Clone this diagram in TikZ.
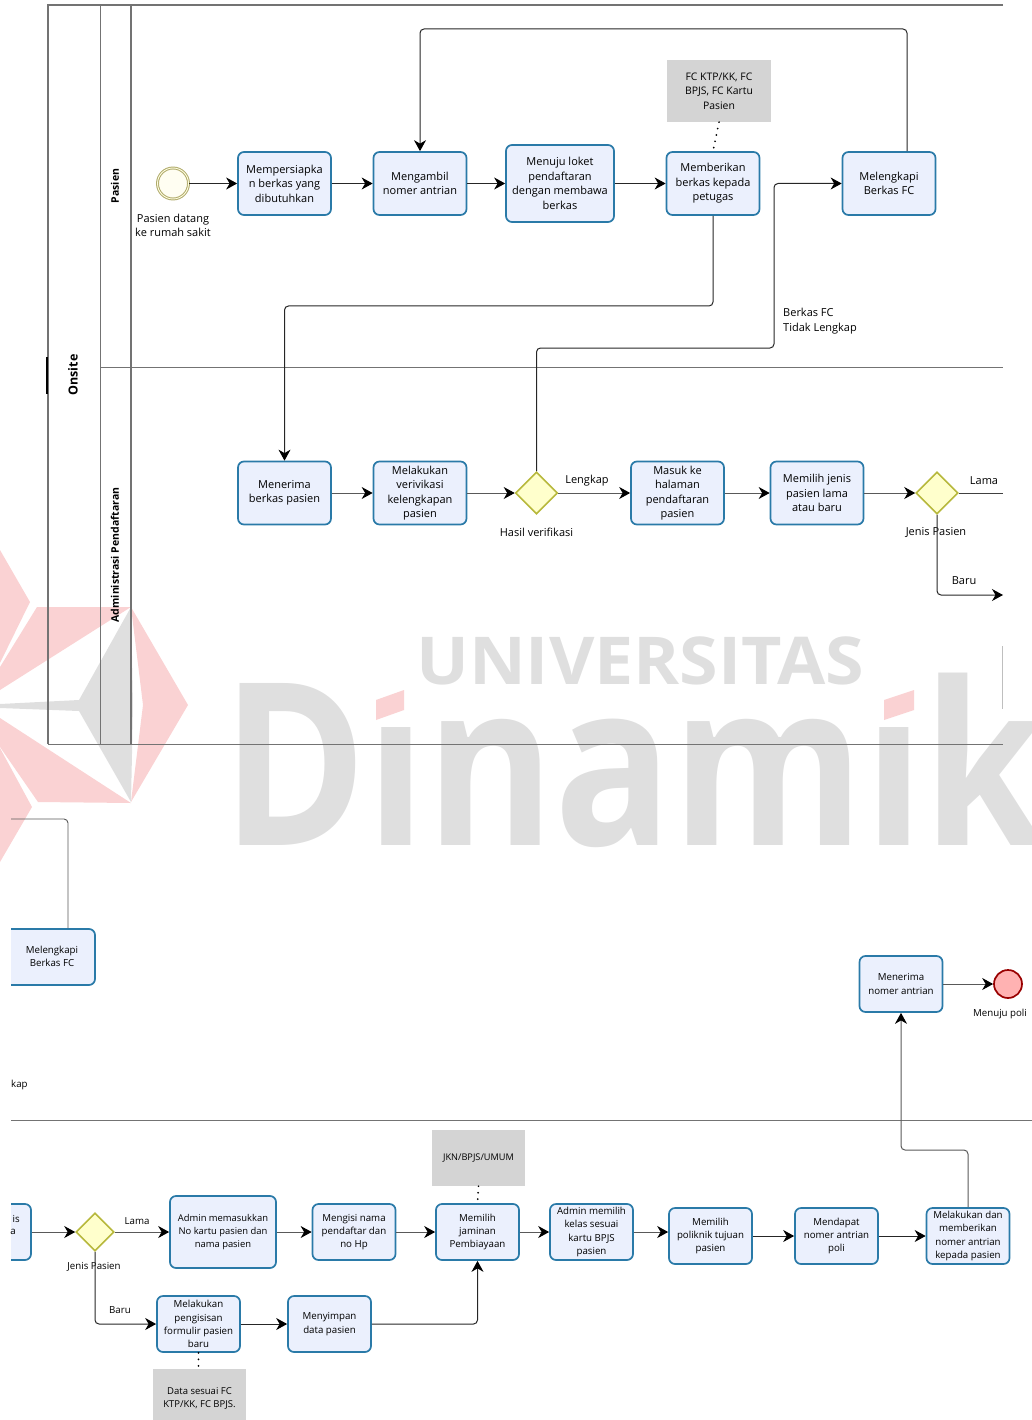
\documentclass[tikz,border=0pt]{standalone}
\usepackage{fontspec}
\setmainfont{Open Sans}
\usepackage{tikz}
\usetikzlibrary{calc,arrows.meta,shapes.geometric}

\definecolor{taskfill}{HTML}{EBF0FD}
\definecolor{taskline}{HTML}{2A7AA8}
\definecolor{gatefill}{HTML}{FFFFCC}
\definecolor{gateline}{HTML}{B7B83C}
\definecolor{ringline}{HTML}{B0AB6C}
\definecolor{markred}{HTML}{FAD2D3}
\definecolor{markgray}{HTML}{DFDFDF}

\tikzset{
    lane/.style={draw=black!55,line width=0.9pt},
    tasklarge/.style={draw=taskline,fill=taskfill,line width=1.7pt,rounded corners=6pt,inner sep=0pt,
        minimum width=93pt,minimum height=63pt,align=center,font=\fontsize{11}{14.5}\selectfont},
    tasksmall/.style={draw=taskline,fill=taskfill,line width=1.7pt,rounded corners=6pt,inner sep=0pt,
        minimum width=83pt,minimum height=56pt,align=center,font=\fontsize{9.7}{13.2}\selectfont},
    gatebox/.style={diamond,draw=gateline,fill=gatefill,line width=1.6pt,inner sep=0pt,aspect=1},
    databox/.style={fill=black!17,inner sep=0pt,align=center},
    flow/.style={draw=black!85,line width=1pt,rounded corners=4pt,-{Stealth[black,length=11pt,width=12pt,inset=3.5pt]}},
    flowgray/.style={flow,draw=black!65},
    plainflow/.style={draw=black!75,line width=1pt,rounded corners=4pt},
    assoc/.style={draw=black,line width=1.9pt,line cap=round,dash pattern=on 0pt off 6.5pt},
    lbl/.style={align=center,inner sep=0pt,font=\fontsize{11}{14.5}\selectfont},
    lblsmall/.style={align=center,inner sep=0pt,font=\fontsize{9.7}{13.2}\selectfont},
}

\begin{document}
\begin{tikzpicture}[x=1pt,y=-1pt]
    \useasboundingbox (0,0) rectangle (1032,1420);
    \clip (0,0) rectangle (1032,1420);

    % watermark
    \fill[markred] (0,550) -- (30,602) -- (0,663) -- cycle;
    \fill[markred] (37,607) -- (131,607) -- (0,690) -- (0,667) -- cycle;
    \fill[markred] (131,607) -- (188,705) -- (131,802) -- (143,705) -- cycle;
    \fill[markred] (0,718) -- (131,803) -- (38,802) -- (0,747) -- cycle;
    \fill[markred] (0,748) -- (32,807) -- (0,862) -- cycle;
    \fill[markgray] (131,607) -- (79,700) -- (0,704) -- (0,708) -- (79,711) -- (131,802) -- (133,705) -- cycle;
    \node[anchor=base west,inner sep=0pt,text=markgray,xscale=0.86,font=\fontsize{227}{227}\selectfont\bfseries] (Mark_big) at (222,845) {Dinamik};
    \fill[white] (372,660) rectangle (417,727);
    \fill[white] (874,660) rectangle (918,727);
    \fill[markred] (376,700) -- (404,690) -- (404,710) -- (376,720) -- cycle;
    \fill[markred] (884,700) -- (914,690) -- (914,710) -- (884,720) -- cycle;
    \node[anchor=base west,inner sep=0pt,text=markgray,xscale=1.06,font=\fontsize{66}{66}\selectfont\bfseries] (Mark_top) at (416,684) {UNIVERSITAS};

    % lanes of the first part
    \draw[lane,line width=1.2pt] (1003,5) -- (48,5) -- (48,744);
    \draw[lane] (48,744) -- (1003,744);
    \draw[lane] (100,5) -- (100,744);
    \draw[lane,line width=1.2pt] (131,5) -- (131,744);
    \draw[lane] (100,367) -- (1003,367);
    \draw[black,line width=1.4pt] (47,357) -- (47,394);
    \draw[black!25,line width=0.9pt] (1002,646) -- (1002,709);
    \node[rotate=90,inner sep=0pt,font=\fontsize{12.5}{14}\selectfont\bfseries] (Onsite) at (73,375) {Onsite};
    \node[rotate=90,inner sep=0pt,font=\fontsize{10.5}{12}\selectfont\bfseries] (Lane_pasien) at (115,186) {Pasien};
    \node[rotate=90,inner sep=0pt,font=\fontsize{10.5}{12}\selectfont\bfseries] (Lane_admin) at (115,555) {Administrasi Pendaftaran};

    % pasien
    \node[circle,draw=ringline,double=yellow!12,double distance=0.9pt,fill=yellow!5,line width=1pt,minimum size=31pt,inner sep=0pt] (Start) at (173,183.5) {};
    \node[lbl] (Start_text) at (173,225.5) {Pasien datang\\ke rumah sakit};
    \node[tasklarge] (Siap) at (284.5,183.5) {Mempersiapka\\n berkas yang\\dibutuhkan};
    \node[tasklarge] (Ambil) at (420,183.5) {Mengambil\\nomer antrian};
    \node[tasklarge,minimum width=108pt,minimum height=77pt] (Loket) at (560,183.5) {Menuju loket\\pendaftaran\\dengan membawa\\berkas};
    \node[tasklarge] (Beri) at (713,183.5) {Memberikan\\berkas kepada\\petugas};
    \node[tasklarge] (Lengkapi) at (889,183.5) {Melengkapi\\Berkas FC};
    \node[databox,minimum width=104pt,minimum height=62pt,font=\fontsize{10.4}{14.5}\selectfont] (Data_fc) at (719,91) {FC KTP/KK, FC\\BPJS, FC Kartu\\Pasien};
    \node[lbl,align=left,anchor=west] (Label_fc) at (783,321) {Berkas FC\\Tidak Lengkap};

    % administrasi
    \node[tasklarge] (Terima) at (284.5,493) {Menerima\\berkas pasien};
    \node[tasklarge] (Verif) at (420,493) {Melakukan\\verivikasi\\kelengkapan\\pasien};
    \node[gatebox,minimum size=42pt] (Gate_hasil) at (536.5,493) {};
    \node[tasklarge] (Masuk) at (677.5,493) {Masuk ke\\halaman\\pendaftaran\\pasien};
    \node[tasklarge] (Jenis) at (817,493) {Memilih jenis\\pasien lama\\atau baru};
    \node[gatebox,minimum size=42pt] (Gate_jenis) at (937,493) {};
    \coordinate (Lama_end) at (1003,493);
    \coordinate (Baru_end) at (1003,595);
    \node[lbl] (Label_lengkap) at (587,480.5) {Lengkap};
    \node[lbl] (Label_hasil) at (536.5,532.5) {Hasil verifikasi};
    \node[lbl] (Label_lama) at (984,480.5) {Lama};
    \node[lbl] (Label_jenis) at (936,532.5) {Jenis Pasien};
    \node[lbl] (Label_baru) at (964,581) {Baru};

    \draw[flow] (Start) -- (Siap);
    \draw[flow] (Siap) -- (Ambil);
    \draw[flow] (Ambil) -- (Loket);
    \draw[flow] (Loket) -- (Beri);
    \draw[assoc] (Data_fc.south) -- (Beri.north);
    \draw[flow] ($(Lengkapi.north)+(18,0)$) -- (907,29) -- (420,29) -- (Ambil.north);
    \draw[flow] (Beri.south) -- (713,306) -- (284.5,306) -- (Terima.north);
    \draw[flow] (Gate_hasil.north) -- (536.5,348) -- (774,348) -- (774,183.5) -- (Lengkapi.west);
    \draw[flowgray] (Terima) -- (Verif);
    \draw[flowgray] (Verif) -- (Gate_hasil);
    \draw[flowgray] (Gate_hasil) -- (Masuk);
    \draw[flowgray] (Masuk) -- (Jenis);
    \draw[flowgray] (Jenis) -- (Gate_jenis);
    \draw[plainflow] (Gate_jenis) -- (Lama_end);
    \draw[flow] (Gate_jenis.south) -- (937,595) -- (Baru_end);

    % second part, cut at the left
    \draw[lane] (11,1120.5) -- (1032,1120.5);
    \begin{scope}
        \clip (11,900) rectangle (1032,1420);
        \node[tasksmall,minimum width=96pt,minimum height=56pt] (Lengkapi_b) at (47,957) {};
        \node[tasksmall,minimum width=84pt] (Jenis_b) at (-11,1232) {};
    \end{scope}
    \coordinate (Cut_top) at (11,819);
    \node[lblsmall] (Lengkapi_text) at (52,956) {Melengkapi\\Berkas FC};
    \node[lblsmall,anchor=east] (Cut_is) at (20,1219) {is};
    \node[lblsmall,anchor=east] (Cut_a) at (16,1232) {a};
    \node[lblsmall,anchor=west] (Cut_kap) at (11,1085) {kap};
    \draw[plainflow,draw=black!65,line width=0.9pt] (Cut_top) -- (68,819) -- (68,928);

    \node[tasksmall] (Nomer) at (901,984) {Menerima\\nomer antrian};
    \node[circle,draw=red!60!black,fill=red!30!white,line width=1.7pt,minimum size=28pt,inner sep=0pt] (End) at (1008,984) {};
    \node[lblsmall] (End_text) at (1000,1014) {Menuju poli};

    \node[gatebox,minimum size=38pt] (Gate_b) at (95,1232) {};
    \node[lblsmall] (Label_lama_b) at (137,1221) {Lama};
    \node[lblsmall] (Label_jenis_b) at (94,1267) {Jenis Pasien};
    \node[lblsmall] (Label_baru_b) at (120,1310) {Baru};
    \node[tasksmall,minimum width=106pt,minimum height=72pt,font=\fontsize{9.4}{13.2}\selectfont] (Admin) at (223,1232) {Admin memasukkan\\No kartu pasien dan\\nama pasien};
    \node[tasksmall] (Isi) at (354,1232) {Mengisi nama\\pendaftar dan\\no Hp};
    \node[tasksmall] (Jaminan) at (477.5,1232) {Memilih\\jaminan\\Pembiayaan};
    \node[tasksmall] (Kelas) at (591.5,1232) {Admin memilih\\kelas sesuai\\kartu BPJS\\pasien};
    \node[tasksmall] (Poli) at (710.5,1236) {Memilih\\poliknik tujuan\\pasien};
    \node[tasksmall] (Dapat) at (836.5,1236) {Mendapat\\nomer antrian\\poli};
    \node[tasksmall] (Kepada) at (968,1236) {Melakukan dan\\memberikan\\nomer antrian\\kepada pasien};
    \node[tasksmall] (Isi_form) at (198.5,1324) {Melakukan\\pengisisan\\formulir pasien\\baru};
    \node[tasksmall] (Simpan) at (329.5,1324) {Menyimpan\\data pasien};
    \node[databox,minimum width=93pt,minimum height=56pt,font=\fontsize{9.2}{13}\selectfont] (Data_jkn) at (478.5,1158) {JKN/BPJS/UMUM};
    \node[databox,minimum width=93pt,minimum height=58pt,font=\fontsize{9.5}{13.2}\selectfont] (Data_baru) at (199.5,1398) {Data sesuai FC\\KTP/KK, FC BPJS.};

    \draw[flowgray] (Jenis_b) -- (Gate_b);
    \draw[flowgray] (Gate_b) -- (Admin);
    \draw[flowgray] (Admin) -- (Isi);
    \draw[flowgray] (Isi) -- (Jaminan);
    \draw[flowgray] (Jaminan) -- (Kelas);
    \draw[flowgray] (Kelas.east) -- (Kelas.east -| Poli.west);
    \draw[flow] (Poli) -- (Dapat);
    \draw[flow] (Dapat) -- (Kepada);
    \draw[flowgray] (Kepada.north) -- (968,1150) -- (901,1150) -- (Nomer.south);
    \draw[flowgray] (Nomer) -- (End);
    \draw[flow] (Gate_b.south) -- (95,1324) -- (Isi_form.west);
    \draw[flow] (Isi_form) -- (Simpan);
    \draw[flow] (Simpan.east) -- (477.5,1324) -- (Jaminan.south);
    \draw[assoc] (Data_jkn.south) -- (Jaminan.north);
    \draw[assoc] (Isi_form.south) -- (Data_baru.north -| Isi_form.south);
\end{tikzpicture}
\end{document}
